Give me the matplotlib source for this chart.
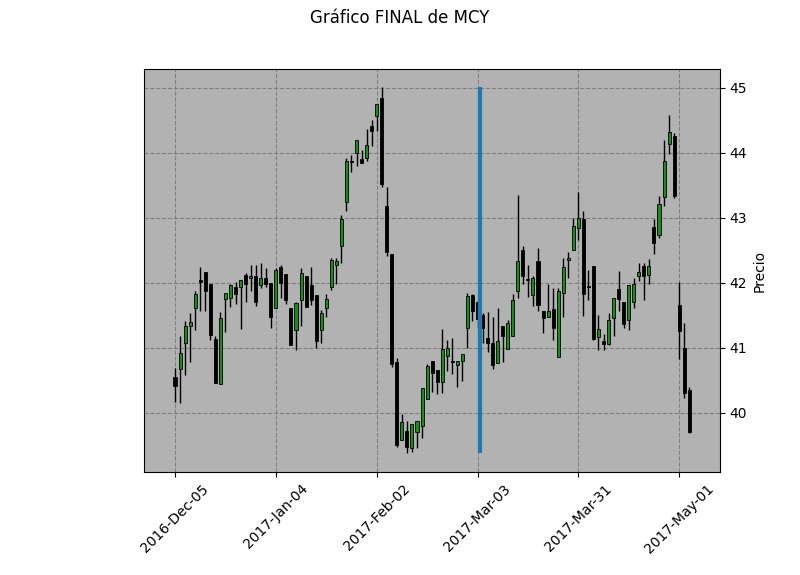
import numpy as np
import pandas as pd
import matplotlib
matplotlib.use('Agg')
import matplotlib.pyplot as plt

# daily OHLC values (one per trading day, 2016-12-05 .. 2017-05-03)
opens = [40.56, 40.68, 41.08, 41.33, 41.61, 42.05, 42.16, 41.99, 41.14, 40.45,
         41.75, 41.76, 41.94, 41.94, 42.12, 42.07, 42.11, 41.96, 42.07, 41.995,
         41.61, 42.24, 42.14, 41.61, 41.28, 41.73, 42.10, 41.97, 41.81, 41.28,
         41.61, 41.93, 42.28, 42.56, 43.24, 43.88, 43.995, 43.91, 43.92, 44.41,
         44.56, 44.84, 43.18, 42.45, 40.78, 39.59, 39.72, 39.46, 39.70, 39.80,
         40.21, 40.80, 40.66, 40.48, 40.87, 40.80, 40.73, 40.80, 41.30, 41.82,
         41.70, 41.51, 41.15, 41.08, 40.77, 41.34, 40.99, 41.18, 41.88, 42.51,
         42.06, 41.82, 42.33, 41.57, 41.47, 41.595, 40.86, 41.84, 42.35, 42.50,
         42.84, 42.98, 41.945, 42.26, 41.16, 41.108, 41.06, 41.46, 41.90, 41.71,
         41.43, 41.71, 42.11, 42.26, 42.12, 42.86, 42.74, 43.32, 44.13, 44.26,
         41.66, 40.995, 40.35]
highs = [40.69, 41.18, 41.41, 41.53, 41.87, 42.25, 42.16, 41.99, 41.18, 41.55,
         41.84, 41.99, 42.02, 42.05, 42.15, 42.28, 42.28, 42.30, 42.23, 41.995,
         42.23, 42.28, 42.14, 41.61, 41.71, 42.23, 42.10, 42.25, 41.81, 41.58,
         41.83, 42.38, 42.38, 43.05, 43.92, 43.97, 44.20, 44.05, 44.36, 44.50,
         44.75, 45.01, 43.47, 42.45, 40.84, 39.98, 39.87, 39.83, 39.87, 40.38,
         40.76, 40.80, 40.66, 41.29, 41.12, 41.15, 40.80, 40.91, 41.84, 41.83,
         41.72, 41.53, 41.55, 41.47, 41.61, 41.34, 41.43, 41.83, 43.35, 42.57,
         42.28, 42.10, 42.53, 41.57, 41.98, 41.92, 41.92, 42.38, 42.48, 42.995,
         43.40, 43.11, 42.20, 42.26, 41.51, 41.21, 41.53, 41.76, 42.19, 41.71,
         41.97, 42.08, 42.31, 42.31, 42.37, 42.99, 43.33, 44.20, 44.58, 44.31,
         42.02, 41.38, 40.40]
lows = [40.17, 40.15, 40.59, 40.79, 41.28, 41.56, 41.56, 41.12, 40.46, 40.45,
        41.25, 41.63, 41.67, 41.29, 41.71, 41.87, 41.64, 41.92, 41.94, 41.30,
        41.61, 41.76, 41.67, 41.05, 40.97, 41.33, 41.63, 41.66, 41.00, 41.07,
        41.48, 41.89, 41.98, 42.30, 43.10, 43.71, 43.80, 43.84, 43.88, 44.11,
        44.33, 43.47, 42.42, 40.71, 39.48, 39.59, 39.38, 39.40, 39.46, 39.61,
        40.21, 40.32, 40.29, 40.30, 40.65, 40.60, 40.40, 40.49, 40.995, 41.42,
        41.30, 41.07, 40.93, 40.68, 40.77, 40.79, 40.99, 41.18, 41.76, 41.98,
        41.79, 41.64, 41.57, 41.23, 41.47, 41.12, 40.86, 41.47, 42.07, 42.50,
        42.66, 41.49, 41.74, 41.12, 40.97, 40.97, 41.05, 41.18, 41.57, 41.30,
        41.28, 41.62, 42.03, 41.74, 41.98, 42.45, 42.69, 43.18, 43.98, 43.31,
        40.825, 40.23, 39.69]
closes = [40.42, 40.92, 41.34, 41.40, 41.83, 42.02, 41.87, 41.20, 40.46, 41.46,
          41.84, 41.97, 41.83, 42.05, 41.98, 42.11, 41.71, 42.07, 41.98, 41.48,
          42.20, 41.995, 41.74, 41.05, 41.69, 42.15, 41.63, 41.73, 41.11, 41.53,
          41.75, 42.35, 42.34, 42.99, 43.88, 43.86, 44.20, 43.84, 44.12, 44.33,
          44.75, 43.52, 42.47, 40.75, 39.51, 39.86, 39.48, 39.83, 39.87, 40.38,
          40.72, 40.61, 40.47, 40.98, 40.995, 40.79, 40.80, 40.91, 41.80, 41.57,
          41.45, 41.30, 41.08, 40.73, 41.10, 41.18, 41.38, 41.74, 42.34, 42.11,
          42.04, 42.07, 41.66, 41.46, 41.57, 41.31, 41.87, 42.25, 42.39, 42.88,
          42.995, 41.83, 41.935, 41.14, 41.29, 41.06, 41.43, 41.76, 41.75, 41.36,
          41.97, 41.98, 42.17, 42.11, 42.26, 42.61, 43.21, 43.87, 44.32, 43.34,
          41.26, 40.30, 39.70]

holidays = ['2016-12-26', '2017-01-02', '2017-01-16', '2017-02-20', '2017-04-14']
dates = pd.bdate_range('2016-12-05', periods=len(closes), freq='C', holidays=holidays)
marker_date = '2017-03-03'

o = np.array(opens)
h = np.array(highs)
l = np.array(lows)
c = np.array(closes)
x = np.arange(len(c))
up = c >= o

fig = plt.figure(figsize=(8, 5.75), dpi=100)
ax = fig.add_axes([0.18, 0.179, 0.72, 0.701])
ax.set_facecolor('#b2b2b2')

# wicks first, bodies on top
ax.vlines(x, l, h, color='k', linewidth=1, zorder=2)
colors = np.where(up, '#1a8c1a', 'k')
ax.bar(x, np.maximum(np.abs(c - o), 0.01), bottom=np.minimum(o, c), width=0.6,
       color=colors, edgecolor='k', linewidth=0.6, zorder=3)

# vertical marker line
mi = list(dates).index(pd.Timestamp(marker_date))
ax.vlines(mi + 0.5, l.min(), h.max(), color='#1f77b4', linewidth=3, zorder=4)

ax.set_xlim(-6.15, 108.1)
ax.set_ylim(39.09, 45.29)
ticks = x[::20]
ax.set_xticks(ticks)
ax.set_xticklabels([dates[i].strftime('%Y-%b-%d') for i in ticks], rotation=45, ha='center', fontsize=10)
ax.yaxis.tick_right()
ax.yaxis.set_label_position('right')
ax.set_yticks([40, 41, 42, 43, 44, 45])
ax.set_ylabel('Precio')
ax.grid(True, linestyle='--', color='#7f7f7f', linewidth=0.8)
ax.set_axisbelow(True)

fig.suptitle('Gráfico FINAL de MCY', fontsize=12, y=0.985)
fig.savefig('out.png', dpi=100)
